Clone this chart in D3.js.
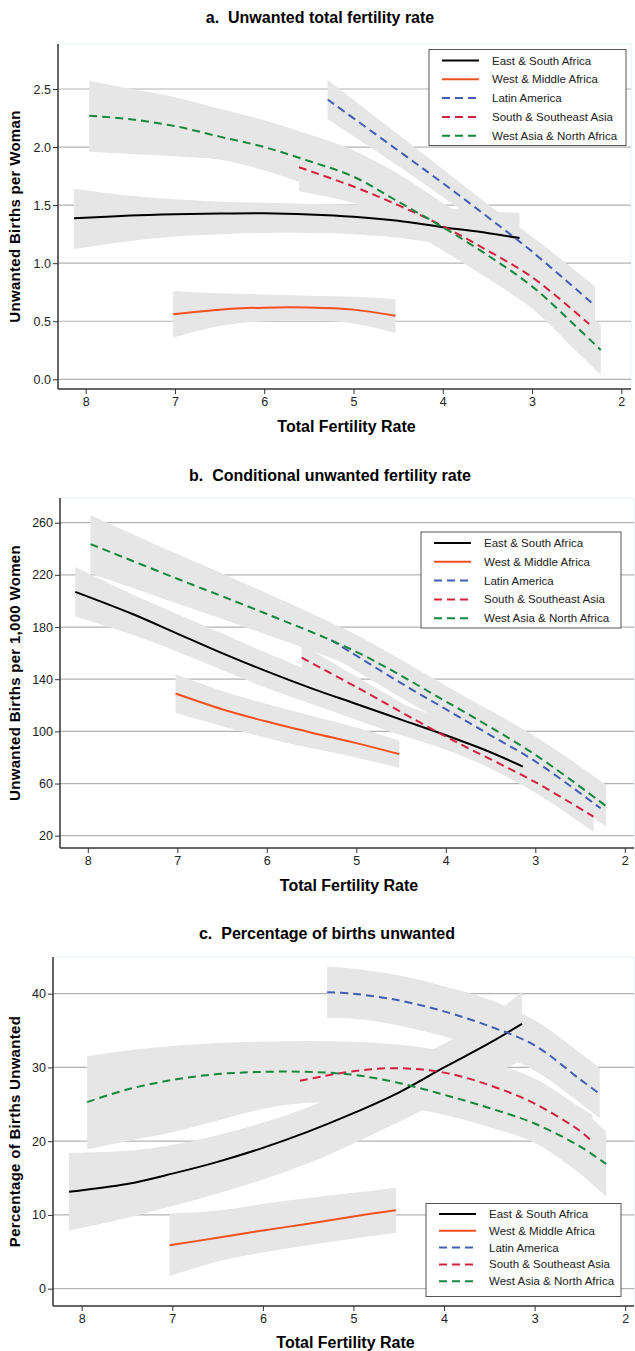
<!DOCTYPE html>
<html>
<head>
<meta charset="utf-8">
<script src="https://cdn.jsdelivr.net/npm/d3@7"></script>
<style>
  body { margin: 0; background: #fff; }
  svg { font-family: "Liberation Sans", Arial, sans-serif; }
</style>
</head>
<body>
<svg id="chart" width="635" height="1351"></svg>
<script>
// regions, in legend order
const regions = ['East & South Africa', 'West & Middle Africa', 'Latin America',
  'South & Southeast Asia', 'West Asia & North Africa'];
const colors = ['#000000', '#f4511e', '#3f5db3', '#d4203f', '#15883d'];
const dashed = [false, false, true, true, true];

// panel a: unwanted TFR (births per woman), fit + 95% band per region
const aESA_x = [8.13, 7.5, 7, 6.5, 6, 5.5, 5, 4.5, 4, 3.5, 3.14];
const aESA_fit = [1.387, 1.41, 1.421, 1.428, 1.43, 1.42, 1.40, 1.365, 1.31, 1.26, 1.217];
const aESA_hi = [1.64, 1.58, 1.55, 1.53, 1.52, 1.51, 1.50, 1.49, 1.47, 1.45, 1.43];
const aESA_lo = [1.12, 1.19, 1.23, 1.25, 1.26, 1.26, 1.25, 1.22, 1.16, 1.08, 1.0];
const aWMA_x = [7.02, 6.5, 6, 5.5, 5, 4.53];
const aWMA_fit = [0.56, 0.60, 0.617, 0.618, 0.60, 0.548];
const aWMA_hi = [0.76, 0.74, 0.73, 0.72, 0.71, 0.69];
const aWMA_lo = [0.36, 0.46, 0.50, 0.51, 0.48, 0.40];
const aLA_x = [5.29, 4.5, 4, 3.5, 3, 2.295];
const aLA_fit = [2.41, 1.97, 1.69, 1.40, 1.10, 0.634];
const aLA_hi = [2.58, 2.11, 1.81, 1.51, 1.23, 0.80];
const aLA_lo = [2.24, 1.84, 1.57, 1.28, 0.97, 0.47];
const aSSA_x = [5.61, 5, 4.5, 4, 3.5, 3, 2.36];
const aSSA_fit = [1.826, 1.66, 1.50, 1.32, 1.11, 0.88, 0.476];
const aSSA_hi = [2.0, 1.80, 1.62, 1.42, 1.22, 1.01, 0.65];
const aSSA_lo = [1.62, 1.52, 1.38, 1.22, 1.00, 0.75, 0.31];
const aWANA_x = [7.96, 7.5, 7, 6.5, 6, 5.5, 5, 4.5, 4, 3.5, 3, 2.5, 2.23];
const aWANA_fit = [2.27, 2.24, 2.18, 2.09, 2.00, 1.88, 1.745, 1.53, 1.31, 1.07, 0.80, 0.45, 0.252];
const aWANA_hi = [2.57, 2.50, 2.43, 2.33, 2.23, 2.11, 1.97, 1.77, 1.52, 1.27, 0.99, 0.66, 0.47];
const aWANA_lo = [1.96, 1.94, 1.92, 1.89, 1.80, 1.67, 1.53, 1.33, 1.11, 0.87, 0.61, 0.24, 0.04];

// panel b: conditional unwanted fertility rate (per 1,000 women)
const bESA_x = [8.14, 7.5, 7, 6.5, 6, 5.5, 5, 4.5, 4, 3.5, 3.14];
const bESA_fit = [207, 190, 175, 160, 146, 133, 121, 109, 97, 84, 73];
const bESA_hi = [226, 205, 190, 175, 160, 146, 133, 121, 109, 96, 86];
const bESA_lo = [188, 174, 161, 147, 133, 121, 109, 97, 86, 72, 61];
const bWMA_x = [7.02, 6.5, 6, 5.5, 5, 4.52];
const bWMA_fit = [129, 117, 107.5, 99, 91, 82.6];
const bWMA_hi = [144, 131, 121, 112, 103, 93];
const bWMA_lo = [114, 104, 95, 87, 80, 72];
const bLA_x = [5.28, 4.5, 4, 3.5, 3, 2.27];
const bLA_fit = [170, 137, 117, 97, 77, 41];
const bLA_hi = [182, 148, 128, 107, 87, 52];
const bLA_lo = [158, 126, 106, 87, 67, 30];
const bSSA_x = [5.61, 5, 4, 3, 2.35];
const bSSA_fit = [156.5, 134, 96, 61, 34.6];
const bSSA_hi = [167, 142, 103, 69, 45];
const bSSA_lo = [146, 126, 89, 53, 23];
const bWANA_x = [7.97, 7, 6, 5, 4, 3, 2.21];
const bWANA_fit = [243.6, 217, 190, 161, 123, 82, 42.7];
const bWANA_hi = [266, 236, 206, 174, 135, 96, 59];
const bWANA_lo = [221, 198, 174, 148, 111, 68, 27];

// panel c: percentage of births unwanted
const cESA_x = [8.14, 7.5, 7, 6.5, 6, 5.5, 5, 4.5, 4, 3.5, 3.14];
const cESA_fit = [13.15, 14.2, 15.6, 17.2, 19.1, 21.3, 23.8, 26.6, 30.0, 33.3, 35.9];
const cESA_hi = [18.4, 18.7, 19.5, 20.8, 22.5, 24.6, 27.2, 30.0, 33.2, 36.7, 40.3];
const cESA_lo = [7.9, 9.6, 11.2, 12.9, 14.8, 17.0, 19.7, 22.6, 25.7, 28.7, 31.0];
const cWMA_x = [7.03, 6.5, 6, 5.5, 5, 4.53];
const cWMA_fit = [5.9, 6.9, 7.9, 8.8, 9.8, 10.65];
const cWMA_hi = [10.2, 10.6, 11.5, 12.3, 13.0, 13.7];
const cWMA_lo = [1.7, 3.7, 4.9, 5.9, 6.8, 7.6];
const cLA_x = [5.29, 5, 4.5, 4, 3.5, 3, 2.5, 2.28];
const cLA_fit = [40.2, 40.0, 39.1, 37.6, 35.6, 33.0, 28.4, 26.4];
const cLA_hi = [43.7, 43.4, 42.5, 41.0, 39.2, 36.4, 32.0, 29.9];
const cLA_lo = [36.7, 36.6, 35.7, 34.2, 32.2, 29.6, 25.2, 23.1];
const cSSA_x = [5.59, 5, 4.5, 4, 3.5, 3, 2.5, 2.36];
const cSSA_fit = [28.2, 29.5, 29.9, 29.3, 27.6, 25.1, 21.4, 19.9];
const cSSA_hi = [31.2, 31.8, 31.8, 31.1, 29.6, 27.4, 24.6, 23.5];
const cSSA_lo = [25.2, 27.2, 28.0, 27.5, 25.6, 22.8, 18.2, 16.3];
const cWANA_x = [7.94, 7.5, 7, 6.5, 6, 5.5, 5, 4.5, 4, 3.5, 3, 2.5, 2.21];
const cWANA_fit = [25.3, 27.0, 28.3, 29.1, 29.4, 29.4, 29.0, 27.9, 26.3, 24.5, 22.4, 19.3, 16.9];
const cWANA_hi = [31.5, 32.3, 32.9, 33.3, 33.5, 33.6, 33.5, 33.1, 32.2, 30.7, 28.5, 24.5, 21.3];
const cWANA_lo = [18.9, 20.0, 21.2, 22.8, 24.4, 25.2, 25.2, 24.7, 23.6, 21.9, 19.8, 15.6, 12.5];

const xTicks = [8, 7, 6, 5, 4, 3, 2];
const aTicks = [0, 0.5, 1, 1.5, 2, 2.5];
const bTicks = [20, 60, 100, 140, 180, 220, 260];
const cTicks = [0, 10, 20, 30, 40];

function series(xs, fit, hi, lo) {
  return xs.map((x, i) => ({ x, fit: fit[i], hi: hi[i], lo: lo[i] }));
}

const svg = d3.select('#chart');

function drawPanel(p) {
  const g = svg.append('g');
  const x = d3.scaleLinear().domain([8, 2]).range(p.xr);
  const y = d3.scaleLinear().domain(p.yd).range(p.yr);

  // faint frame at top/right
  g.append('path')
    .attr('d', `M${p.left},${p.top}H${p.right}V${p.bottom}`)
    .attr('fill', 'none').attr('stroke', '#e6f1f6').attr('stroke-width', 1);

  // gridlines
  g.selectAll('.grid').data(p.ticks).enter().append('line')
    .attr('x1', p.left).attr('x2', p.right)
    .attr('y1', d => y(d)).attr('y2', d => y(d))
    .attr('stroke', '#b3b3b3').attr('stroke-width', 1.2);

  const curve = d3.curveCatmullRom.alpha(0.5);
  const area = d3.area().curve(curve)
    .x(d => x(d.x)).y0(d => y(d.lo)).y1(d => y(d.hi));
  const line = d3.line().curve(curve)
    .x(d => x(d.x)).y(d => y(d.fit));

  g.selectAll('.band').data(p.data).enter().append('path')
    .attr('d', d => area(d)).attr('fill', '#e6e6e6');
  g.selectAll('.fit').data(p.data).enter().append('path')
    .attr('d', d => line(d)).attr('fill', 'none')
    .attr('stroke', (d, i) => colors[i]).attr('stroke-width', 2)
    .attr('stroke-dasharray', (d, i) => dashed[i] ? '8,5' : null);

  // axes
  const yAxis = g.append('g').attr('transform', `translate(${p.left},0)`)
    .call(d3.axisLeft(y).tickValues(p.ticks).tickSize(5).tickPadding(2)
      .tickFormat(p.fmt));
  const xAxis = g.append('g').attr('transform', `translate(0,${p.bottom})`)
    .call(d3.axisBottom(x).tickValues(xTicks).tickSize(5).tickPadding(3)
      .tickFormat(d3.format('d')));
  [xAxis, yAxis].forEach(a => {
    a.select('.domain').attr('stroke', '#333').attr('stroke-width', 1.5);
    a.selectAll('.tick line').attr('stroke', '#333');
    a.selectAll('text').attr('font-size', 12.5).attr('fill', '#222')
      .attr('font-family', '"Liberation Sans", Arial, sans-serif');
  });
  yAxis.select('.domain').attr('d', `M0,${p.top}V${p.bottom}`);
  xAxis.select('.domain').attr('d', `M${p.left},0H${p.right}`);

  // titles
  g.append('text').attr('x', p.titleX).attr('y', p.titleY)
    .attr('text-anchor', 'middle').attr('font-weight', 'bold').attr('font-size', 16)
    .text(p.title);
  g.append('text').attr('x', (p.left + p.right) / 2 + 2).attr('y', p.xLabelY)
    .attr('text-anchor', 'middle').attr('font-weight', 'bold').attr('font-size', 16)
    .text('Total Fertility Rate');
  g.append('text')
    .attr('transform', `translate(20,${(p.top + p.bottom) / 2}) rotate(-90)`)
    .attr('text-anchor', 'middle').attr('font-weight', 'bold').attr('font-size', 15)
    .attr('letter-spacing', 0.3)
    .text(p.yLabel);

  // legend
  const L = p.legend;
  g.append('rect').attr('x', L.x).attr('y', L.y).attr('width', L.w).attr('height', L.h)
    .attr('fill', '#fff').attr('stroke', '#555').attr('stroke-width', 1);
  const items = g.selectAll('.leg').data(regions).enter().append('g')
    .attr('transform', (d, i) => `translate(${L.x},${L.y + L.first + i * L.step})`);
  items.append('line').attr('x1', 13).attr('x2', 50).attr('y1', 0).attr('y2', 0)
    .attr('stroke', (d, i) => colors[i]).attr('stroke-width', 2)
    .attr('stroke-dasharray', (d, i) => dashed[i] ? '8,5' : null);
  items.append('text').attr('x', 63).attr('y', 4).attr('font-size', 11.5)
    .attr('fill', '#222').text(d => d);
}

drawPanel({
  title: 'a.\u00a0 Unwanted total fertility rate', titleX: 320, titleY: 23,
  yLabel: 'Unwanted Births per Woman',
  left: 58, right: 631, top: 44, bottom: 389,
  xr: [85.7, 621.3], yd: [0, 2.5], yr: [379.3, 89],
  ticks: aTicks, fmt: d3.format('.1f'), xLabelY: 432,
  legend: { x: 429, y: 49.5, w: 197, h: 96, first: 11, step: 18.8 },
  data: [series(aESA_x, aESA_fit, aESA_hi, aESA_lo), series(aWMA_x, aWMA_fit, aWMA_hi, aWMA_lo),
    series(aLA_x, aLA_fit, aLA_hi, aLA_lo), series(aSSA_x, aSSA_fit, aSSA_hi, aSSA_lo),
    series(aWANA_x, aWANA_fit, aWANA_hi, aWANA_lo)]
});

drawPanel({
  title: 'b.\u00a0 Conditional unwanted fertility rate', titleX: 330, titleY: 481,
  yLabel: 'Unwanted Births per 1,000 Women',
  left: 60, right: 634, top: 498, bottom: 848,
  xr: [87.8, 624.8], yd: [20, 260], yr: [835.7, 522.7],
  ticks: bTicks, fmt: d3.format('d'), xLabelY: 891,
  legend: { x: 421, y: 532, w: 200, h: 96, first: 11, step: 18.8 },
  data: [series(bESA_x, bESA_fit, bESA_hi, bESA_lo), series(bWMA_x, bWMA_fit, bWMA_hi, bWMA_lo),
    series(bLA_x, bLA_fit, bLA_hi, bLA_lo), series(bSSA_x, bSSA_fit, bSSA_hi, bSSA_lo),
    series(bWANA_x, bWANA_fit, bWANA_hi, bWANA_lo)]
});

drawPanel({
  title: 'c.\u00a0 Percentage of births unwanted', titleX: 327, titleY: 939,
  yLabel: 'Percentage of Births Unwanted',
  left: 53, right: 634, top: 957, bottom: 1306,
  xr: [81.7, 625.2], yd: [0, 40], yr: [1288.7, 993.7],
  ticks: cTicks, fmt: d3.format('d'), xLabelY: 1348,
  legend: { x: 426, y: 1203.5, w: 195, h: 93, first: 10.5, step: 16.8 },
  data: [series(cESA_x, cESA_fit, cESA_hi, cESA_lo), series(cWMA_x, cWMA_fit, cWMA_hi, cWMA_lo),
    series(cLA_x, cLA_fit, cLA_hi, cLA_lo), series(cSSA_x, cSSA_fit, cSSA_hi, cSSA_lo),
    series(cWANA_x, cWANA_fit, cWANA_hi, cWANA_lo)]
});
</script>
</body>
</html>
